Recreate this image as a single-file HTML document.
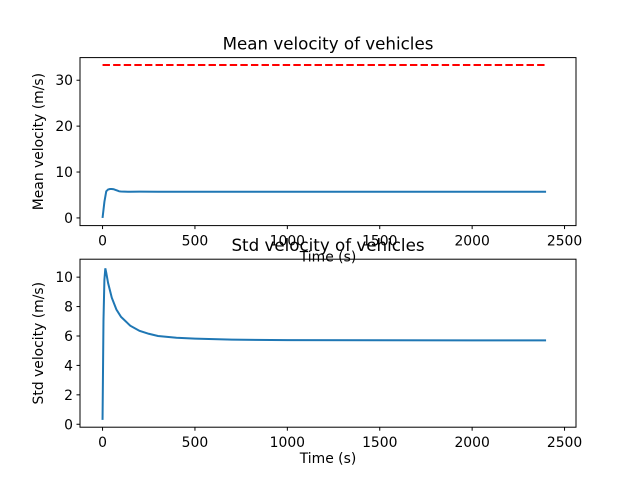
<!DOCTYPE html>
<html><head><meta charset="utf-8"><style>
body{margin:0;background:#fff;}
svg{font-family:"DejaVu Sans","Liberation Sans",sans-serif;}
</style></head><body>
<svg id="c" width="640" height="480" xmlns="http://www.w3.org/2000/svg"></svg>
<script>
const meanT=[0,10,20,30,40,50,60,70,80,90,100,150,200,300,500,1000,1500,2000,2400];
const meanV=[0,3.5,5.8,6.2,6.3,6.3,6.25,6.1,5.95,5.8,5.75,5.7,5.72,5.7,5.7,5.7,5.7,5.7,5.7];
const targetV=33.33;
const stdT=[0,5,10,15,20,30,50,75,100,150,200,250,300,400,500,700,1000,1500,2000,2400];
const stdV=[0.3,7,9.8,10.6,10.3,9.6,8.6,7.8,7.3,6.7,6.35,6.15,6.0,5.88,5.82,5.75,5.72,5.71,5.7,5.7];
const xTicks=[0,500,1000,1500,2000,2500];
const yTicksTop=[0,10,20,30];
const yTicksBot=[0,2,4,6,8,10];
const svg=document.getElementById('c');
const NS='http://www.w3.org/2000/svg';
function mk(tag,attrs,parent){const e=document.createElementNS(NS,tag);for(const k in attrs)e.setAttribute(k,attrs[k]);(parent||svg).appendChild(e);return e;}
const L=80,R=576;
const xs=v=>L+(v+122)/(2684)*(R-L);
function panel(top,bot,ymin,ymax,yticks,title,ylabel,name){
  const g=mk('g',{});
  
  
  const ys=v=>bot-(v-ymin)/(ymax-ymin)*(bot-top);
  const t=mk('text',{x:(L+R)/2,y:top-8,'text-anchor':'middle','font-size':'16.7'},g);t.textContent=title;
  
  
  xTicks.forEach(v=>{const x=xs(v);mk('line',{x1:x,x2:x,y1:bot,y2:bot+3.5,stroke:'#000'},g);
    const l=mk('text',{x:x,y:bot+20,'text-anchor':'middle','font-size':'13.9'},g);l.textContent=v;
    
    });
  yticks.forEach(v=>{const y=ys(v);mk('line',{x1:L-3.5,x2:L,y1:y,y2:y,stroke:'#000'},g);
    const l=mk('text',{x:L-7,y:y+5,'text-anchor':'end','font-size':'13.9'},g);l.textContent=v;
    
    });
  const xl=mk('text',{x:(L+R)/2,y:bot+36,'text-anchor':'middle','font-size':'13.9'},g);xl.textContent='Time (s)';
  
  
  const yl=mk('text',{x:0,y:0,'text-anchor':'middle','font-size':'13.9',transform:`translate(${L-37},${(top+bot)/2}) rotate(-90)`},g);yl.textContent=ylabel;
  
  
  return {g,ys,draw(){const r=mk('rect',{x:L,y:top,width:R-L,height:bot-top,fill:'none',stroke:'#000','stroke-width':1},g);
    
    }};
}
const p1=panel(57.6,225.6,-1.67,34.93,yTicksTop,'Mean velocity of vehicles','Mean velocity (m/s)','mean-panel');
const tl=mk('line',{x1:xs(0),x2:xs(2400),y1:p1.ys(targetV),y2:p1.ys(targetV),stroke:'#ff0000','stroke-width':2,'stroke-dasharray':'7.4,3.2'},p1.g);


const m=mk('polyline',{points:meanT.map((t,i)=>xs(t)+','+p1.ys(meanV[i])).join(' '),fill:'none',stroke:'#1f77b4','stroke-width':2},p1.g);


p1.draw();
const p2=panel(259.2,427.2,-0.2,11.22,yTicksBot,'Std velocity of vehicles','Std velocity (m/s)','std-panel');
const s=mk('polyline',{points:stdT.map((t,i)=>xs(t)+','+p2.ys(stdV[i])).join(' '),fill:'none',stroke:'#1f77b4','stroke-width':2},p2.g);


p2.draw();
</script>
</body></html>
